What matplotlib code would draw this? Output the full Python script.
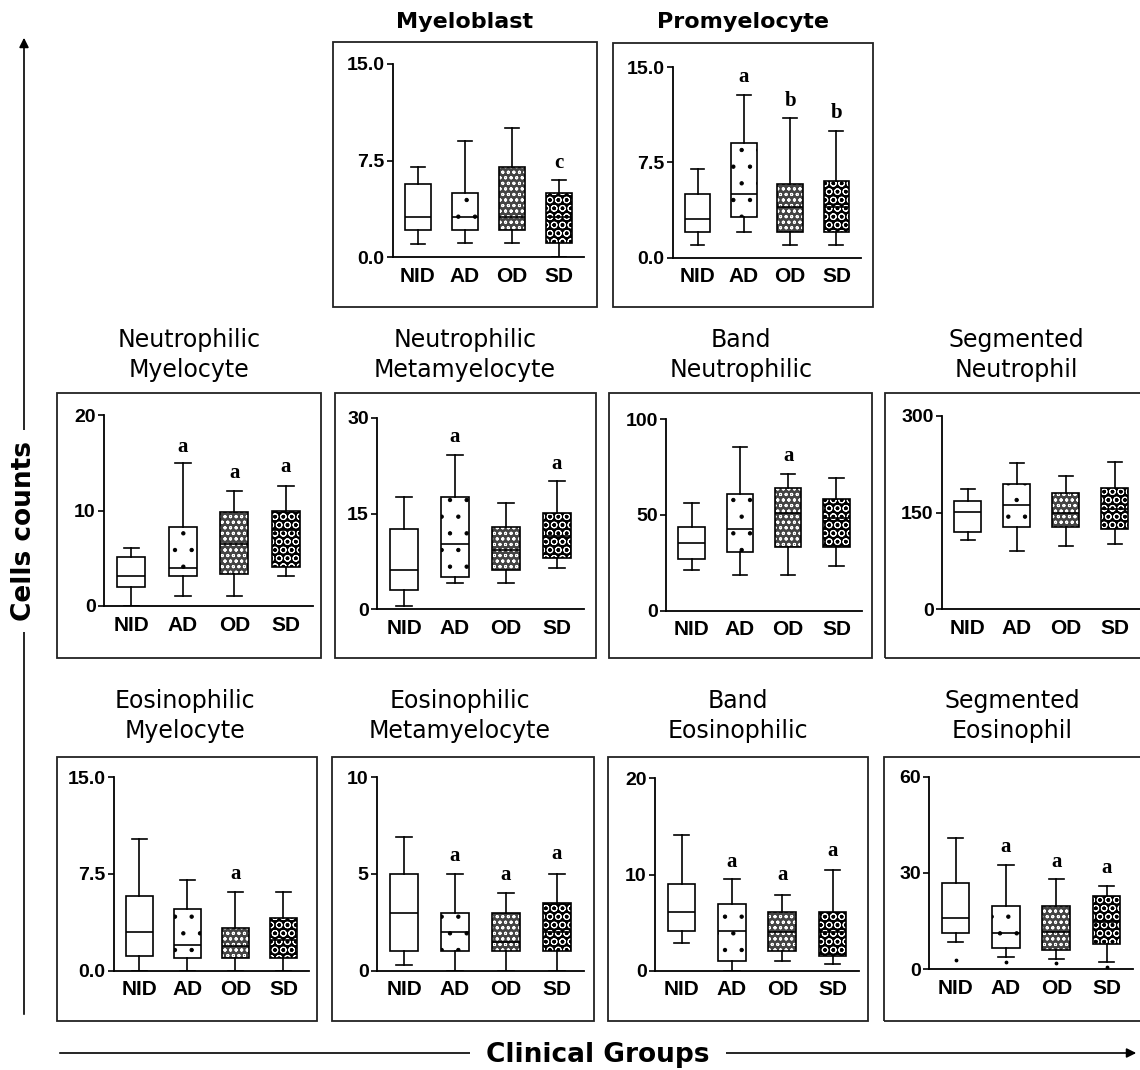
import matplotlib
matplotlib.use("Agg")
import matplotlib.pyplot as plt
from matplotlib.patches import Rectangle, PathPatch, FancyArrowPatch

W, H = 1140, 1070

groups = ["NID", "AD", "OD", "SD"]

# five-number summaries per group: whisker low, Q1, median, Q3, whisker high
myeloblast = [[1.0, 2.1, 3.1, 5.7, 7.0], [1.1, 2.1, 3.1, 5.0, 9.0],
              [1.1, 2.1, 3.1, 7.0, 10.0], [0.0, 1.1, 3.1, 5.0, 6.0]]
promyelocyte = [[1.0, 2.0, 3.0, 5.0, 7.0], [2.0, 3.2, 5.0, 9.0, 12.8],
                [1.0, 2.0, 4.0, 5.8, 11.0], [1.0, 2.0, 4.0, 6.0, 10.0]]
neut_myelocyte = [[0.0, 2.0, 3.1, 5.1, 6.1], [1.0, 3.1, 4.0, 8.3, 15.0],
                  [1.0, 3.3, 6.5, 9.8, 12.0], [3.1, 4.1, 8.0, 10.0, 12.6]]
neut_metamyelocyte = [[0.5, 3.1, 6.2, 12.5, 17.6], [4.1, 5.1, 10.2, 17.6, 24.2],
                      [4.1, 6.2, 9.3, 12.9, 16.6], [6.4, 8.1, 11.5, 15.1, 20.1]]
band_neut = [[21.2, 27.0, 35.5, 43.8, 56.0], [18.6, 30.4, 42.4, 60.9, 85.6],
             [18.6, 33.4, 50.8, 64.2, 71.1], [23.5, 33.4, 48.2, 58.3, 69.4]]
seg_neut = [[108, 120, 151, 168, 186], [91, 128, 162, 194, 226],
            [98, 128, 150, 180, 207], [101, 125, 156, 188, 229]]
eos_myelocyte = [[0.0, 1.1, 3.0, 5.8, 10.2], [0.0, 1.0, 2.0, 4.8, 7.0],
                 [0.0, 1.0, 1.9, 3.3, 6.1], [0.0, 1.0, 2.4, 4.1, 6.1]]
eos_metamyelocyte = [[0.3, 1.0, 3.0, 5.0, 6.9], [0.0, 1.0, 2.0, 3.0, 5.0],
                     [0.0, 1.0, 1.5, 3.0, 4.0], [0.0, 1.0, 2.0, 3.5, 5.0]]
band_eos = [[2.9, 4.1, 6.1, 9.0, 14.1], [0.0, 1.0, 4.1, 6.9, 9.5],
            [1.0, 2.0, 4.0, 6.1, 7.9], [0.7, 1.5, 4.0, 6.1, 10.5]]
seg_eos = [[8.5, 11.1, 15.8, 26.9, 41.0], [3.6, 6.4, 11.1, 19.8, 32.4],
           [3.0, 5.9, 11.6, 19.8, 28.0], [2.1, 7.7, 14.8, 22.9, 25.9]]
seg_eos_outliers = [2.8, 2.3, 1.8, 0.7]

# significance letters (letter, height) per group
myeloblast_sig = [None, None, None, ("c", 7.3)]
promyelocyte_sig = [None, ("a", 14.2), ("b", 12.3), ("b", 11.4)]
neut_myelocyte_sig = [None, ("a", 16.7), ("a", 13.9), ("a", 14.6)]
neut_metamyelocyte_sig = [None, ("a", 27.0), None, ("a", 22.8)]
band_neut_sig = [None, None, ("a", 80.7), None]
seg_neut_sig = [None, None, None, None]
eos_myelocyte_sig = [None, None, ("a", 7.5), None]
eos_metamyelocyte_sig = [None, ("a", 5.9), ("a", 4.95), ("a", 6.0)]
band_eos_sig = [None, ("a", 11.3), ("a", 9.9), ("a", 12.4)]
seg_eos_sig = [None, ("a", 38.0), ("a", 33.5), ("a", 31.4)]

# box fill per group: facecolor, hatch, hatch colour
fills = [("white", None, "k"), ("white", ".", "k"),
         ("#444444", "ooo", "white"), ("black", "OO", "white")]

plt.rcParams["hatch.linewidth"] = 0.7
fig = plt.figure(figsize=(W / 100, H / 100), dpi=100)

XLIM = (0.47, 4.53)


def panel(left, spacing, top, bottom, stats, sig, ymax, ticks, fmt, outliers=None):
    width = spacing * (XLIM[1] - XLIM[0])
    ax = fig.add_axes([left / W, 1 - bottom / H, width / W, (bottom - top) / H])
    bstats = [dict(whislo=s[0], q1=s[1], med=s[2], q3=s[3], whishi=s[4], fliers=[], label=g)
              for s, g in zip(stats, groups)]
    lw = 1.2
    bp = ax.bxp(bstats, positions=[1, 2, 3, 4], widths=0.55, capwidths=0.3,
                patch_artist=True, showfliers=False,
                whiskerprops=dict(color="k", lw=lw), capprops=dict(color="k", lw=lw),
                medianprops=dict(color="k", lw=lw))
    for patch, (fc, hatch, hc) in zip(bp["boxes"], fills):
        patch.set_facecolor(fc)
        patch.set_hatch(hatch)
        patch.set_edgecolor(hc)
        patch.set_linewidth(0)
        ax.add_patch(PathPatch(patch.get_path(), transform=patch.get_transform(),
                               fill=False, edgecolor="k", lw=lw, zorder=2.5))
    for pos, s in zip([1, 2, 3, 4], sig):
        if s:
            ax.text(pos, s[1], s[0], ha="center", va="center", fontsize=15,
                    fontweight="bold", family="Liberation Serif")
    if outliers is not None:
        ax.scatter([1, 2, 3, 4], outliers, s=3, color="k", zorder=3)
    ax.set_xlim(*XLIM)
    ax.set_ylim(0, ymax)
    ax.set_yticks(ticks, [fmt % t for t in ticks])
    ax.set_xticks([1, 2, 3, 4], groups)
    for sp in ("top", "right"):
        ax.spines[sp].set_visible(False)
    for sp in ("left", "bottom"):
        ax.spines[sp].set_linewidth(1.3)
    ax.tick_params(axis="y", direction="out", length=4, width=1.2, pad=2)
    ax.tick_params(axis="x", length=0, pad=7)
    for lab in ax.get_yticklabels():
        lab.set_fontproperties(dict(family="Liberation Sans", weight="bold", size=14))
    for lab in ax.get_xticklabels():
        lab.set_fontproperties(dict(family="Liberation Sans", weight="bold", size=15))
    return ax


def frame(x0, y0, x1, y1):
    fig.add_artist(Rectangle((x0 / W, 1 - y1 / H), (x1 - x0) / W, (y1 - y0) / H,
                             transform=fig.transFigure, fill=False, lw=1.3, edgecolor="#222"))


def title(x, y, txt, bold=False, size=17):
    fig.text(x / W, 1 - y / H, txt, ha="center", va="center", fontsize=size,
             family="DejaVu Sans", fontweight="bold" if bold else "normal",
             linespacing=1.3)


# row 1
frame(333, 42, 597, 307)
frame(613, 43, 873, 307)
title(465, 22, "Myeloblast", bold=True, size=16)
title(743, 22, "Promyelocyte", bold=True, size=16)
panel(393, 47, 64, 257, myeloblast, myeloblast_sig, 15, [0, 7.5, 15], "%.1f")
panel(673, 46.3, 67, 257.5, promyelocyte, promyelocyte_sig, 15, [0, 7.5, 15], "%.1f")

# row 2
frame(57, 393, 321, 658)
frame(335, 393, 596, 658)
frame(609, 393, 872, 658)
frame(885, 393, 1150, 658)
title(189, 355, "Neutrophilic\nMyelocyte")
title(465, 355, "Neutrophilic\nMetamyelocyte")
title(741, 355, "Band\nNeutrophilic")
title(1016, 355, "Segmented\nNeutrophil")
panel(104, 51.5, 415, 606, neut_myelocyte, neut_myelocyte_sig, 20, [0, 10, 20], "%d")
panel(377, 51, 417.7, 609.3, neut_metamyelocyte, neut_metamyelocyte_sig, 30, [0, 15, 30], "%d")
panel(666, 48.3, 419, 610.7, band_neut, band_neut_sig, 100, [0, 50, 100], "%d")
panel(942, 49, 415.7, 609.3, seg_neut, seg_neut_sig, 300, [0, 150, 300], "%d")

# row 3
frame(57, 757, 317, 1021)
frame(332, 757, 594, 1021)
frame(608, 757, 868, 1021)
frame(884, 757, 1150, 1021)
title(185, 716, "Eosinophilic\nMyelocyte")
title(460, 716, "Eosinophilic\nMetamyelocyte")
title(738, 716, "Band\nEosinophilic")
title(1012, 716, "Segmented\nEosinophil")
panel(114, 48, 777, 970.7, eos_myelocyte, eos_myelocyte_sig, 15, [0, 7.5, 15], "%.1f")
panel(377, 51, 777, 970.7, eos_metamyelocyte, eos_metamyelocyte_sig, 10, [0, 5, 10], "%d")
panel(655, 50.3, 778.3, 970.7, band_eos, band_eos_sig, 20, [0, 10, 20], "%d")
panel(929, 50.3, 776.7, 969, seg_eos, seg_eos_sig, 60, [0, 30, 60], "%d", outliers=seg_eos_outliers)

# axis arrows
fig.add_artist(FancyArrowPatch((24 / W, 1 - 1017 / H), (24 / W, 1 - 35 / H),
                               transform=fig.transFigure, arrowstyle="-|>",
                               mutation_scale=14, lw=1.2, color="k"))
fig.add_artist(FancyArrowPatch((57 / W, 1 - 1053 / H), (1139 / W, 1 - 1053 / H),
                               transform=fig.transFigure, arrowstyle="-|>",
                               mutation_scale=14, lw=1.2, color="k"))
fig.text(24 / W, 1 - 531 / H, "Cells counts", rotation=90, ha="center", va="center",
         fontsize=19, fontweight="bold", family="DejaVu Sans",
         bbox=dict(boxstyle="square,pad=0.4", fc="white", ec="none"))
fig.text(598 / W, 1 - 1055 / H, "Clinical Groups", ha="center", va="center",
         fontsize=19, fontweight="bold", family="DejaVu Sans",
         bbox=dict(boxstyle="square,pad=0.6", fc="white", ec="none"))

fig.savefig("out.png", dpi=100, facecolor="white")
